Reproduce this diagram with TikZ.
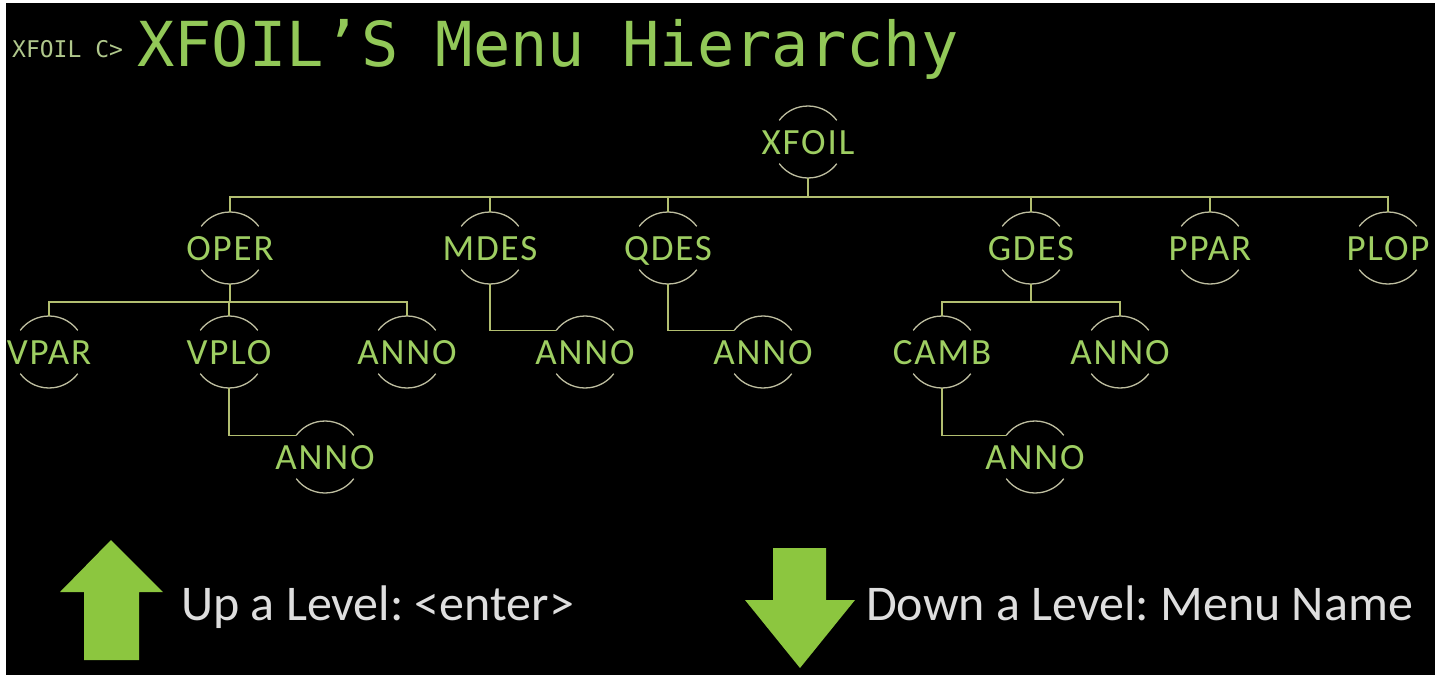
\documentclass[tikz,border=0pt]{standalone}
\usepackage{fontspec}
\setmainfont{Carlito}
\newfontfamily\menufont{Carlito}[LetterSpace=5]
\newfontfamily\termfont{DejaVu Sans Mono}
\usepackage{xcolor}
\usepackage{tikz}
\usetikzlibrary{positioning}
\definecolor{menugreen}{RGB}{158,206,98}
\definecolor{titlegreen}{RGB}{146,200,88}
\definecolor{promptgreen}{RGB}{176,200,140}
\definecolor{linkolive}{RGB}{178,190,112}
\definecolor{ringgray}{RGB}{190,190,160}
\definecolor{arrowgreen}{RGB}{140,198,63}
\definecolor{hintgray}{RGB}{222,222,222}
\frenchspacing

\begin{document}
\begin{tikzpicture}[x=1pt, y=-1pt,
        menu/.style={font=\menufont\fontsize{37}{40}\selectfont, text=menugreen, inner sep=0pt, text height=24pt, text depth=0pt},
        link/.style={draw=linkolive, line width=1.6pt},
        ring/.style={draw=ringgray, line width=1.3pt},
        hint/.style={font=\fontsize{50}{54}\selectfont, text=hintgray, inner sep=0pt, anchor=base west},
        bigarrow/.style={fill=arrowgreen}
    ]
        % Background
        \fill[white] (0,0) rectangle (1435,675);
        \fill[black] (6,3) rectangle (1435,675);

        % Title
        \node[anchor=base west, inner sep=0pt, font=\termfont\fontsize{23}{25}\selectfont, text=promptgreen] (prompt) at (12,57) {XFOIL C>};
        \node[anchor=base west, inner sep=0pt, font=\termfont\fontsize{62}{68}\selectfont, text=titlegreen] (title) at (137,66) {XFOIL’S Menu Hierarchy};

        % Menus
        \node[menu] (xfoil) at (808,142) {XFOIL};
        \node[menu] (oper) at (230,248) {OPER};
        \node[menu] (mdes) at (490,248) {MDES};
        \node[menu] (qdes) at (668,248) {QDES};
        \node[menu] (gdes) at (1031,248) {GDES};
        \node[menu] (ppar) at (1210,248) {PPAR};
        \node[menu] (plop) at (1388,248) {PLOP};
        \node[menu] (vpar) at (49,352) {VPAR};
        \node[menu] (vplo) at (229,352) {VPLO};
        \node[menu] (operanno) at (407,352) {ANNO};
        \node[menu] (mdesanno) at (585,352) {ANNO};
        \node[menu] (qdesanno) at (763,352) {ANNO};
        \node[menu] (camb) at (942,352) {CAMB};
        \node[menu] (gdesanno) at (1120,352) {ANNO};
        \node[menu] (vploanno) at (325,457) {ANNO};
        \node[menu] (cambanno) at (1035,457) {ANNO};

        % Rings
        \foreach \n in {xfoil,oper,mdes,qdes,gdes,ppar,plop,vpar,vplo,operanno,mdesanno,qdesanno,camb,gdesanno,vploanno,cambanno} {
            \draw[ring] ([shift={(37:36pt)}]\n.center) arc[start angle=37, end angle=143, radius=36pt];
            \draw[ring] ([shift={(217:36pt)}]\n.center) arc[start angle=217, end angle=323, radius=36pt];
        }

        % Links
        \foreach \c in {oper,mdes,qdes,gdes,ppar,plop}
            \draw[link] ([yshift=-36pt]xfoil.center) -- ++(0,19) -| ([yshift=36pt]\c.center);
        \foreach \c in {vpar,vplo,operanno}
            \draw[link] ([yshift=-36pt]oper.center) -- ++(0,18) -| ([yshift=36pt]\c.center);
        \foreach \c in {camb,gdesanno}
            \draw[link] ([yshift=-36pt]gdes.center) -- ++(0,18) -| ([yshift=36pt]\c.center);
        \draw[link] ([yshift=-36pt]mdes.center) |- ([shift={(143:36pt)}]mdesanno.center);
        \draw[link] ([yshift=-36pt]qdes.center) |- ([shift={(143:36pt)}]qdesanno.center);
        \draw[link] ([yshift=-36pt]vplo.center) |- ([shift={(143:36pt)}]vploanno.center);
        \draw[link] ([yshift=-36pt]camb.center) |- ([shift={(143:36pt)}]cambanno.center);

        % Hints
        \fill[bigarrow] (111,540) -- (163,592) -- (139,592) -- (139,660) -- (84,660) -- (84,592) -- (60,592) -- cycle;
        \node[hint] (uphint) at (181,620) {Up a Level: <enter>};
        \fill[bigarrow] (773,548) -- (826,548) -- (826,600) -- (855,600) -- (800,668) -- (745,600) -- (773,600) -- cycle;
        \node[hint] (downhint) at (866,620) {Down a Level: Menu Name};
    \end{tikzpicture}
\end{document}
